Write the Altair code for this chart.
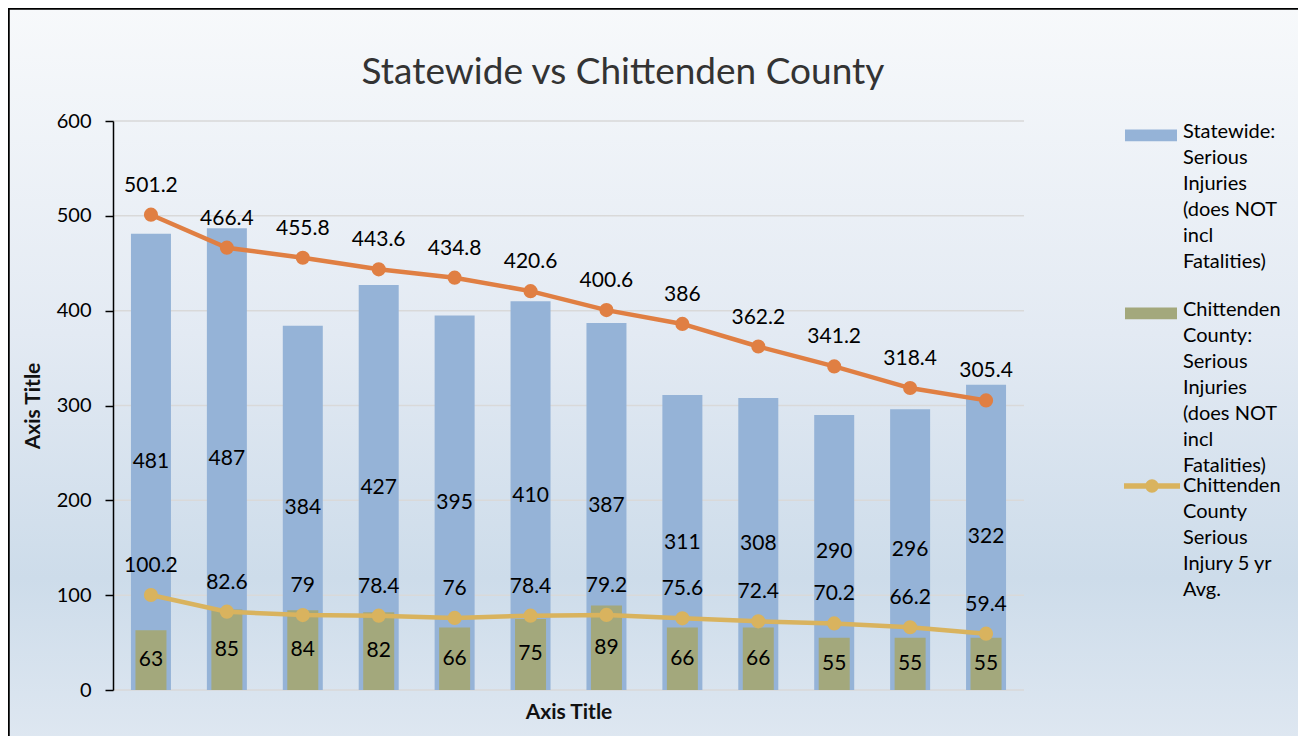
import altair as alt
import pandas as pd

# ---------------- data ----------------
categories = [str(i) for i in range(1, 13)]
statewide = [481, 487, 384, 427, 395, 410, 387, 311, 308, 290, 296, 322]
chittenden = [63, 85, 84, 82, 66, 75, 89, 66, 66, 55, 55, 55]
statewide_avg = [501.2, 466.4, 455.8, 443.6, 434.8, 420.6, 400.6, 386, 362.2, 341.2, 318.4, 305.4]
chittenden_avg = [100.2, 82.6, 79, 78.4, 76, 78.4, 79.2, 75.6, 72.4, 70.2, 66.2, 59.4]
y_ticks = [0, 100, 200, 300, 400, 500, 600]

TITLE = "Statewide vs Chittenden County"
S_BAR = "Statewide: Serious Injuries (does NOT incl Fatalities)"
C_BAR = "Chittenden County: Serious Injuries (does NOT incl Fatalities)"
S_AVG = "Statewide Serious Injury 5 yr Avg."
C_AVG = "Chittenden County Serious Injury 5 yr Avg."

legend_lines = {
    S_BAR: ["Statewide:", "Serious", "Injuries", "(does NOT", "incl", "Fatalities)"],
    C_BAR: ["Chittenden", "County:", "Serious", "Injuries", "(does NOT", "incl", "Fatalities)"],
    C_AVG: ["Chittenden", "County", "Serious", "Injury 5 yr", "Avg."],
}

BLUE = "#95B3D7"
OLIVE = "#A3A87C"
ORANGE = "#E07F43"
YELLOW = "#D9B35E"
FONT = "Lato"

bars_df = pd.DataFrame({
    "cat": categories * 2,
    "series": [S_BAR] * 12 + [C_BAR] * 12,
    "value": statewide + chittenden,
})
lines_df = pd.DataFrame({
    "cat": categories * 2,
    "series": [S_AVG] * 12 + [C_AVG] * 12,
    "value": statewide_avg + chittenden_avg,
})
grid_df = pd.DataFrame({"tick": y_ticks})


def arr(lines):
    return "[" + ",".join("'" + s + "'" for s in lines) + "]"


bar_label_expr = f"datum.label == '{S_BAR}' ? {arr(legend_lines[S_BAR])} : {arr(legend_lines[C_BAR])}"
line_label_expr = f"{arr(legend_lines[C_AVG])}"

W, H = 911, 569
yscale = alt.Scale(domain=[0, 600], nice=False)
xscale = alt.Scale(domain=categories, paddingInner=0, paddingOuter=0)

X_AXIS = alt.Axis(title="Axis Title", labels=False, ticks=False, domain=False, grid=False,
                  titleFontSize=21, titleFont=FONT, titleFontWeight="bold",
                  titleColor="#111", titlePadding=11, zindex=1)
Y_AXIS = alt.Axis(title="Axis Title", values=y_ticks, grid=False,
                  domainColor="#000", domainWidth=1.5, tickColor="#000",
                  tickSize=8, tickWidth=1.5, labelFontSize=20, labelFont=FONT,
                  labelColor="#000", labelPadding=14, titleFontSize=21,
                  titleFont=FONT, titleFontWeight="bold", titleColor="#111",
                  titlePadding=13, zindex=1)


def xe():
    return alt.X("cat:N", scale=xscale, sort=categories, axis=X_AXIS)


def ye(field):
    return alt.Y(field, scale=yscale, stack=None, axis=Y_AXIS)


# background with gradient and border (whole chart area)
bg = alt.Chart(alt.Data(values=[{}])).mark_rect(
    fill=alt.Gradient(
        gradient="linear",
        stops=[
            alt.GradientStop(color="#F7F9FB", offset=0),
            alt.GradientStop(color="#E3EAF3", offset=0.4),
            alt.GradientStop(color="#CDDCEA", offset=0.7),
            alt.GradientStop(color="#DEE7F1", offset=0.9),
            alt.GradientStop(color="#E2E9F2", offset=1),
        ],
        x1=0, x2=0, y1=0, y2=1,
    ),
    stroke="#000", strokeWidth=2.5,
).encode(x=alt.value(-104.5), x2=alt.value(1300), y=alt.value(-112.5), y2=alt.value(700))

title = alt.Chart(alt.Data(values=[{"t": TITLE}])).mark_text(
    fontSize=37, font=FONT, color="#333333", align="center", baseline="alphabetic"
).encode(text="t:N", x=alt.value(510), y=alt.value(-37))

grid = alt.Chart(grid_df).mark_rule(color="#D9D9D9", strokeWidth=1.5).encode(
    y=ye("tick:Q")
)

bars = alt.Chart(bars_df).mark_bar().encode(
    x=xe(),
    y=ye("value:Q"),
    color=alt.Color("series:N",
                    scale=alt.Scale(domain=[S_BAR, C_BAR], range=[BLUE, OLIVE]),
                    legend=alt.Legend(title=None, orient="none", legendX=1012, legendY=-15,
                                      symbolType="M-1,-0.1H1V0.36H-1Z", symbolSize=2704,
                                      symbolStrokeWidth=0, labelExpr=bar_label_expr,
                                      labelFontSize=20, labelFont=FONT, labelColor="#000",
                                      labelLimit=300, labelOffset=6, rowPadding=12,
                                      padding=0)),
    size=alt.Size("series:N", scale=alt.Scale(domain=[S_BAR, C_BAR], range=[40, 31]),
                  legend=None),
    order=alt.Order("series:N", sort="descending"),
)

bar_labels = alt.Chart(bars_df).transform_calculate(
    mid="datum.value / 2"
).mark_text(fontSize=21, font=FONT, color="#000", baseline="middle").encode(
    x=xe(),
    y=ye("mid:Q"),
    text=alt.Text("value:Q", format="~g"),
)

line_color = alt.Color("series:N",
                       scale=alt.Scale(domain=[S_AVG, C_AVG], range=[ORANGE, YELLOW]),
                       legend=alt.Legend(title=None, orient="none", legendX=1011, legendY=337,
                                         values=[C_AVG],
                                         symbolType="M-1,-0.1H1V0.1H-1Z M-0.24,0A0.24,0.24 0 1,1 0.24,0A0.24,0.24 0 1,1 -0.24,0Z",
                                         symbolSize=3136, symbolFillColor=YELLOW,
                                         symbolStrokeWidth=0, labelExpr=line_label_expr,
                                         labelFontSize=20, labelFont=FONT, labelColor="#000",
                                         labelLimit=300, labelOffset=3, padding=0))

lines = alt.Chart(lines_df).mark_line(strokeWidth=4.5).encode(
    x=xe(), y=ye("value:Q"), color=line_color,
)
points = alt.Chart(lines_df).mark_point(filled=True, size=200, opacity=1).encode(
    x=xe(), y=ye("value:Q"), color=line_color,
)
line_group = alt.layer(lines, points)

line_labels = alt.Chart(lines_df).mark_text(fontSize=21, font=FONT, color="#000",
                                            baseline="middle", dy=-29).encode(
    x=xe(), y=ye("value:Q"),
    text=alt.Text("value:Q", format="~g"),
)

chart = alt.layer(bg, title, grid, bars, bar_labels, line_group, line_labels).resolve_scale(
    color="independent"
).resolve_legend(color="independent").properties(
    width=W, height=H,
    autosize=alt.AutoSizeParams(type="none"),
    padding={"left": 105, "top": 113, "right": 274, "bottom": 46},
).configure(
    style={"guide-label": {"lineHeight": 26}},
    view=alt.ViewConfig(stroke=None),
)

chart.save("out.html", embed_options={"renderer": "svg", "actions": False})
